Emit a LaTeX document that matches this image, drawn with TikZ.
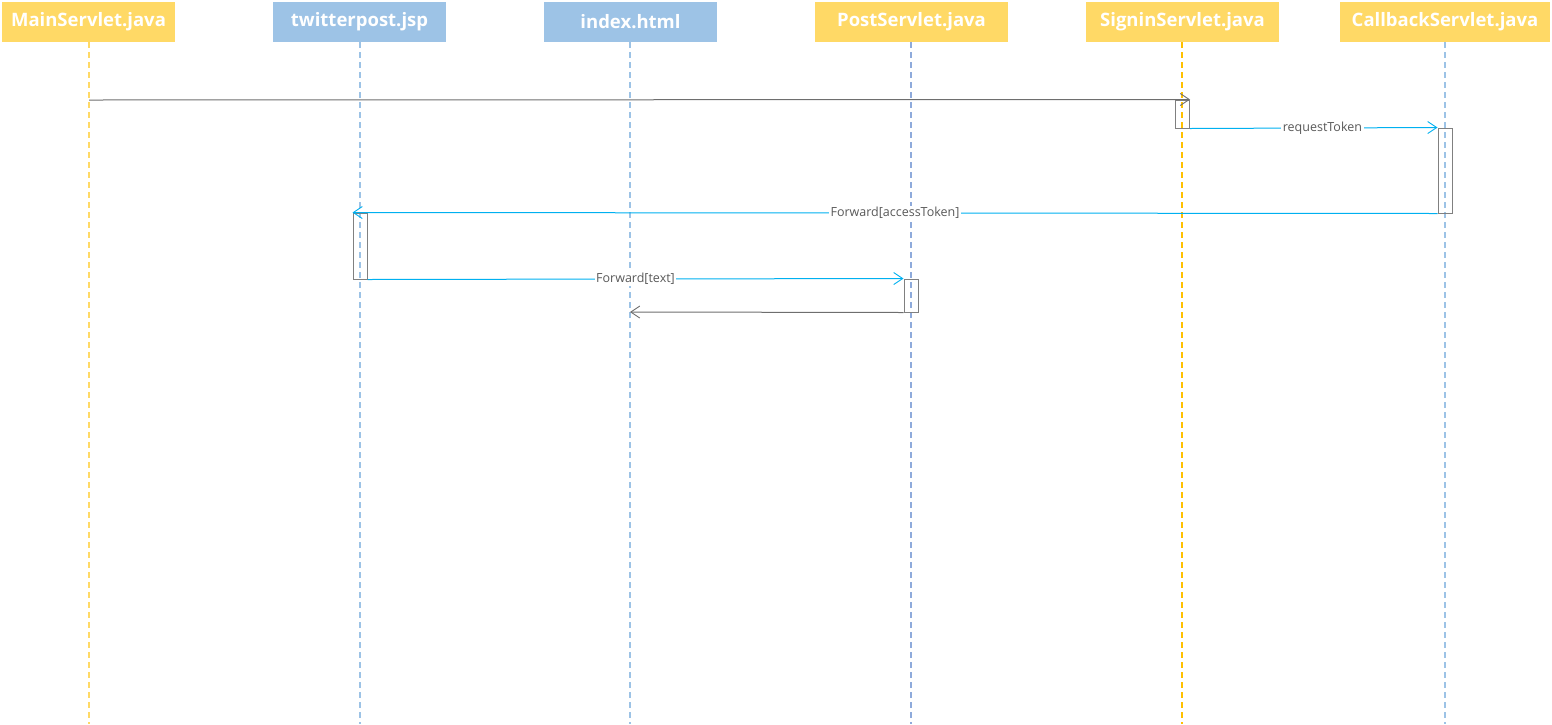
\documentclass[tikz,border=0pt]{standalone}
\usepackage{fontspec}
\setmainfont{Open Sans}
\usetikzlibrary{arrows.meta}
\definecolor{hdryellow}{HTML}{FFD966}
\definecolor{hdrblue}{HTML}{9DC3E6}
\definecolor{lineyellow}{HTML}{FFD966}
\definecolor{lineorange}{HTML}{FFC000}
\definecolor{lineblue}{HTML}{9DC3E6}
\definecolor{linesteel}{HTML}{8EAADB}
\definecolor{msgcyan}{HTML}{00B0F0}
\definecolor{msggrey}{HTML}{6E6E6E}
\definecolor{boxgrey}{HTML}{808080}
\definecolor{labelgrey}{HTML}{595959}
\begin{document}
\begin{tikzpicture}[x=1pt,y=-1pt,
  header/.style={rectangle,draw=none,minimum height=40pt,inner sep=0pt,
    text=white,font=\fontsize{18.5}{22}\selectfont\bfseries},
  yhead/.style={header,fill=hdryellow},
  bhead/.style={header,fill=hdrblue},
  lifeline/.style={line width=1.1pt,dash pattern=on 6pt off 4pt},
  activation/.style={rectangle,draw=boxgrey,line width=1pt,minimum width=14pt,inner sep=0pt},
  msg/.style={line width=1pt,-{Straight Barb[length=9pt,width=12pt,line width=0.9pt]}},
  syncmsg/.style={msg,draw=msggrey},
  fwdmsg/.style={msg,draw=msgcyan},
  msglabel/.style={fill=white,text=labelgrey,inner sep=1.5pt,
    font=\fontsize{12.5}{15}\selectfont}]
  \useasboundingbox (0,0) rectangle (1552,724);

  % participant headers
  \node[yhead,minimum width=173pt] (main)   at (88.5,22)  {MainServlet.java};
  \node[bhead,minimum width=173pt] (tweet)  at (359.5,22) {twitterpost.jsp};
  \node[bhead,minimum width=173pt] (index)  at (630.5,22) {index.html};
  \node[yhead,minimum width=193pt] (post)   at (911.5,22) {PostServlet.java};
  \node[yhead,minimum width=193pt] (signin) at (1182.5,22) {SigninServlet.java};
  \node[yhead,minimum width=210pt] (cb)     at (1445,22)  {CallbackServlet.java};

  % lifeline ends
  \coordinate (mainEnd)   at (89,724);
  \coordinate (tweetEnd)  at (360,724);
  \coordinate (indexEnd)  at (630,724);
  \coordinate (postEnd)   at (911,724);
  \coordinate (signinEnd) at (1182,724);
  \coordinate (cbEnd)     at (1445,724);

  \draw[lifeline,lineyellow] (main.south -| mainEnd) -- (mainEnd);
  \draw[lifeline,lineblue] (tweet.south -| tweetEnd) -- (tweetEnd);
  \draw[lifeline,lineblue] (index.south -| indexEnd) -- (indexEnd);
  \draw[lifeline,linesteel] (post.south -| postEnd) -- (postEnd);
  \draw[lifeline,lineorange] (signin.south -| signinEnd) -- (signinEnd);
  \draw[lifeline,lineblue] (cb.south -| cbEnd) -- (cbEnd);

  % activation bars
  \node[activation,minimum height=28pt] (actSignin) at (1182.5,114) {};
  \node[activation,minimum height=85pt] (actCb)     at (1445,170.5) {};
  \node[activation,minimum height=66pt] (actTweet)  at (360,246)    {};
  \node[activation,minimum height=33pt] (actPost)   at (911,295.5)  {};

  % message end points on lifelines
  \coordinate (callStart) at (89,100);
  \coordinate (replyEnd)  at (630,312);

  % messages
  \draw[syncmsg] (callStart) -- (actSignin.north east);
  \draw[fwdmsg] (actSignin.south east) -- node[msglabel,pos=0.535] {requestToken} (actCb.north west);
  \draw[fwdmsg] (actCb.south west) -- node[msglabel] {Forward[accessToken]} (actTweet.north west);
  \draw[fwdmsg] (actTweet.south east) -- node[msglabel] {Forward[text]} (actPost.north west);
  \draw[syncmsg] (actPost.south west) -- (replyEnd);
\end{tikzpicture}
\end{document}
